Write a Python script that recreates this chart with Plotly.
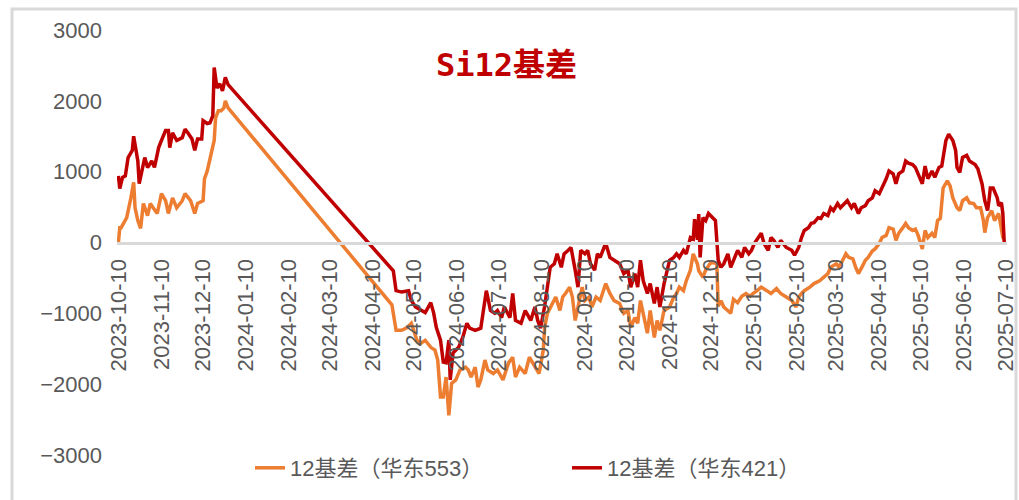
import plotly.graph_objects as go

# ---------------- data ----------------
series_names = ["12基差（华东553）", "12基差（华东421）"]

dates_553 = [
    "2023-10-10", "2023-10-11", "2023-10-12", "2023-10-14", "2023-10-16", "2023-10-19", "2023-10-21", "2023-10-22", "2023-10-24", "2023-10-26", "2023-10-28", "2023-10-31",
    "2023-11-02", "2023-11-04", "2023-11-07", "2023-11-10", "2023-11-13", "2023-11-15", "2023-11-18", "2023-11-21", "2023-11-25", "2023-11-27",
    "2023-12-01", "2023-12-04", "2023-12-06", "2023-12-10", "2023-12-11", "2023-12-13", "2023-12-16", "2023-12-18", "2023-12-19", "2023-12-21", "2023-12-23", "2023-12-25", "2023-12-26", "2023-12-28",
    "2024-04-24", "2024-04-27", "2024-05-01", "2024-05-05", "2024-05-08", "2024-05-12", "2024-05-15", "2024-05-18", "2024-05-22", "2024-05-25", "2024-05-27", "2024-05-29", "2024-05-31",
    "2024-06-02", "2024-06-04", "2024-06-06", "2024-06-09", "2024-06-12", "2024-06-16", "2024-06-18", "2024-06-20", "2024-06-23", "2024-06-25", "2024-06-27", "2024-06-30",
    "2024-07-02", "2024-07-06", "2024-07-09", "2024-07-13", "2024-07-17", "2024-07-20", "2024-07-22", "2024-07-25", "2024-07-29",
    "2024-08-01", "2024-08-05", "2024-08-08", "2024-08-11", "2024-08-12", "2024-08-14", "2024-08-18", "2024-08-20", "2024-08-23", "2024-08-25", "2024-08-27", "2024-08-30",
    "2024-09-01", "2024-09-03", "2024-09-06", "2024-09-08", "2024-09-10", "2024-09-13", "2024-09-15", "2024-09-18", "2024-09-21", "2024-09-25", "2024-09-28",
    "2024-10-01", "2024-10-05", "2024-10-08", "2024-10-11", "2024-10-13", "2024-10-16", "2024-10-18", "2024-10-20", "2024-10-23", "2024-10-25", "2024-10-27", "2024-10-30",
    "2024-11-01", "2024-11-03", "2024-11-06", "2024-11-10", "2024-11-13", "2024-11-15", "2024-11-17", "2024-11-20", "2024-11-22", "2024-11-25", "2024-11-27", "2024-11-30",
    "2024-12-01", "2024-12-04", "2024-12-06", "2024-12-09", "2024-12-11", "2024-12-14", "2024-12-15", "2024-12-17", "2024-12-19", "2024-12-22", "2024-12-24", "2024-12-26", "2024-12-29",
    "2025-01-01", "2025-01-04", "2025-01-07", "2025-01-09", "2025-01-12", "2025-01-15", "2025-01-19", "2025-01-22", "2025-01-26", "2025-01-29",
    "2025-02-02", "2025-02-06", "2025-02-09", "2025-02-11", "2025-02-13", "2025-02-15", "2025-02-19", "2025-02-22", "2025-02-26",
    "2025-03-01", "2025-03-04", "2025-03-06", "2025-03-10", "2025-03-12", "2025-03-15", "2025-03-17", "2025-03-19", "2025-03-22", "2025-03-24", "2025-03-26", "2025-03-29", "2025-03-31",
    "2025-04-02", "2025-04-05", "2025-04-07", "2025-04-10", "2025-04-12", "2025-04-15", "2025-04-17", "2025-04-20", "2025-04-22", "2025-04-24", "2025-04-27", "2025-04-29",
    "2025-05-01", "2025-05-04", "2025-05-06", "2025-05-08", "2025-05-11", "2025-05-13", "2025-05-15", "2025-05-18", "2025-05-20", "2025-05-22", "2025-05-24", "2025-05-26", "2025-05-29", "2025-05-31",
    "2025-06-02", "2025-06-05", "2025-06-07", "2025-06-09", "2025-06-12", "2025-06-14", "2025-06-17", "2025-06-19", "2025-06-22", "2025-06-24", "2025-06-25", "2025-06-27", "2025-06-30",
    "2025-07-02", "2025-07-05", "2025-07-07", "2025-07-08", "2025-07-09",
]
basis_553 = [
    0, 210, 210, 270, 350, 630, 850, 490, 310, 200, 550, 380,
    550, 490, 410, 690, 590, 410, 630, 490, 590, 690,
    590, 410, 550, 590, 900, 1010, 1300, 1440, 1760, 1860, 1860, 1900, 2000, 1900,
    -880, -1240, -1240, -1200, -1140, -1380, -1420, -1380, -1480, -1520, -1660, -2180, -2180,
    -1900, -2440, -1990, -1940, -1800, -1760, -1800, -1900, -1760, -2040, -1940, -1660,
    -1800, -1850, -1800, -1940, -1700, -1620, -1900, -1760, -1850,
    -1620, -1760, -1850, -1520, -1200, -1000, -860, -770, -960, -770, -720, -630,
    -770, -1100, -820, -630, -820, -770, -910, -770, -820, -580, -720,
    -820, -860, -1000, -960, -1200, -1060, -1140, -820, -1100, -1280, -960, -1340,
    -1100, -1240, -960, -910, -770, -720, -630, -680, -540, -390, -160, -300,
    -400, -490, -390, -300, -280, -300, -900, -820, -910, -960, -1000, -800, -850,
    -760, -720, -760, -720, -680, -630, -680, -720, -650, -720,
    -770, -820, -910, -770, -720, -680, -630, -580, -540,
    -490, -440, -350, -300, -350, -250, -160, -210, -230, -350, -440, -330, -250,
    -210, -120, -90, -15, 70, 100, 210, 190, 30, 130, 210, 270,
    210, 170, 190, 100, -90, 170, 70, 130, 70, 310, 340, 770, 870, 800,
    630, 490, 450, 590, 630, 560, 550, 490, 490, 310, 140, 350, 450,
    310, 410, 170, 70, 50,
]

dates_421 = [
    "2023-10-10", "2023-10-11", "2023-10-13", "2023-10-15", "2023-10-17", "2023-10-20", "2023-10-21", "2023-10-24", "2023-10-25", "2023-10-27", "2023-10-29", "2023-10-31",
    "2023-11-03", "2023-11-05", "2023-11-08", "2023-11-10", "2023-11-13", "2023-11-15", "2023-11-16", "2023-11-18", "2023-11-21", "2023-11-25", "2023-11-27", "2023-11-29",
    "2023-12-02", "2023-12-04", "2023-12-06", "2023-12-09", "2023-12-10", "2023-12-13", "2023-12-15", "2023-12-17", "2023-12-18", "2023-12-20", "2023-12-22", "2023-12-24", "2023-12-26", "2023-12-28",
    "2024-04-25", "2024-04-27", "2024-05-01", "2024-05-06", "2024-05-08", "2024-05-11", "2024-05-15", "2024-05-18", "2024-05-22", "2024-05-24", "2024-05-26", "2024-05-29", "2024-05-31",
    "2024-06-02", "2024-06-04", "2024-06-05", "2024-06-07", "2024-06-11", "2024-06-14", "2024-06-17", "2024-06-19", "2024-06-23", "2024-06-27", "2024-06-29",
    "2024-07-01", "2024-07-04", "2024-07-07", "2024-07-09", "2024-07-12", "2024-07-14", "2024-07-18", "2024-07-20", "2024-07-22", "2024-07-26", "2024-07-29",
    "2024-08-02", "2024-08-05", "2024-08-07", "2024-08-09", "2024-08-12", "2024-08-14", "2024-08-16", "2024-08-19", "2024-08-21", "2024-08-24", "2024-08-26", "2024-08-29", "2024-08-31",
    "2024-09-03", "2024-09-05", "2024-09-07", "2024-09-10", "2024-09-12", "2024-09-14", "2024-09-17", "2024-09-19", "2024-09-21", "2024-09-25", "2024-09-28",
    "2024-10-01", "2024-10-05", "2024-10-08", "2024-10-11", "2024-10-13", "2024-10-16", "2024-10-18", "2024-10-20", "2024-10-22", "2024-10-25", "2024-10-27", "2024-10-30",
    "2024-11-01", "2024-11-03", "2024-11-06", "2024-11-10", "2024-11-13", "2024-11-15", "2024-11-17", "2024-11-20", "2024-11-22", "2024-11-25", "2024-11-27", "2024-11-28", "2024-11-30",
    "2024-12-01", "2024-12-02", "2024-12-04", "2024-12-06", "2024-12-08", "2024-12-11", "2024-12-13", "2024-12-15", "2024-12-17", "2024-12-19", "2024-12-22", "2024-12-24", "2024-12-26", "2024-12-29",
    "2025-01-01", "2025-01-03", "2025-01-06", "2025-01-08", "2025-01-10", "2025-01-13", "2025-01-15", "2025-01-17", "2025-01-20", "2025-01-22", "2025-01-24", "2025-01-27", "2025-01-29",
    "2025-02-02", "2025-02-06", "2025-02-08", "2025-02-11", "2025-02-13", "2025-02-15", "2025-02-18", "2025-02-20", "2025-02-22", "2025-02-25", "2025-02-27",
    "2025-03-01", "2025-03-04", "2025-03-06", "2025-03-08", "2025-03-11", "2025-03-13", "2025-03-16", "2025-03-18", "2025-03-21", "2025-03-23", "2025-03-26", "2025-03-28", "2025-03-31",
    "2025-04-02", "2025-04-05", "2025-04-07", "2025-04-10", "2025-04-12", "2025-04-15", "2025-04-17", "2025-04-20", "2025-04-22", "2025-04-24", "2025-04-27", "2025-04-29",
    "2025-05-01", "2025-05-04", "2025-05-06", "2025-05-08", "2025-05-11", "2025-05-13", "2025-05-15", "2025-05-18", "2025-05-20", "2025-05-23", "2025-05-25", "2025-05-28", "2025-05-30",
    "2025-06-02", "2025-06-04", "2025-06-05", "2025-06-07", "2025-06-09", "2025-06-12", "2025-06-14", "2025-06-18", "2025-06-20", "2025-06-23", "2025-06-25", "2025-06-27", "2025-06-28", "2025-06-29",
    "2025-07-01", "2025-07-04", "2025-07-05", "2025-07-07", "2025-07-08", "2025-07-09",
]
basis_421 = [
    940, 760, 920, 940, 1200, 1300, 1500, 1150, 830, 1010, 1200, 1060,
    1150, 1060, 1340, 1440, 1580, 1580, 1340, 1550, 1440, 1480, 1600, 1550,
    1460, 1300, 1460, 1460, 1720, 1680, 1690, 1790, 2470, 2180, 2240, 2140, 2330, 2230,
    -400, -680, -700, -680, -820, -910, -960, -990, -850, -990, -1200, -1380, -1690,
    -1700, -1380, -1940, -1560, -1480, -1340, -1140, -1210, -1240, -1210, -960,
    -680, -960, -1000, -960, -1060, -910, -1060, -720, -1100, -1140, -960,
    -1100, -910, -1100, -1210, -900, -630, -350, -300, -160, -350, -160, -110, -70,
    -390, -630, -110, -160, -110, -300, -390, -160, -210, -10, -210,
    -250, -300, -440, -390, -630, -440, -630, -250, -540, -720, -580, -860,
    -630, -910, -580, -250, -210, -160, -210, -110, -160, 70, 50, 330, 40,
    400, -210, 350, 310, 410, 350, 310, -250, -350, -300, -160, -350, -250, -110,
    -210, -70, -160, -110, -15, 70, 130, -15, -110, 70, 30, -70, 30,
    -70, -110, -180, -70, 70, 170, 210, 270, 280, 350, 340,
    410, 380, 490, 450, 550, 490, 550, 590, 490, 550, 410, 490, 520,
    590, 630, 730, 690, 770, 900, 1010, 970, 830, 970, 1010, 1150,
    1120, 1100, 1060, 970, 830, 1080, 900, 1010, 920, 1060, 1080, 1440, 1530,
    1440, 1300, 1060, 990, 1200, 1230, 1150, 1100, 1040, 830, 590, 450, 590, 770,
    770, 630, 520, 560, 410, 0,
]

tick_labels = [
    "2023-10-10", "2023-11-10", "2023-12-10", "2024-01-10", "2024-02-10", "2024-03-10",
    "2024-04-10", "2024-05-10", "2024-06-10", "2024-07-10", "2024-08-10", "2024-09-10",
    "2024-10-10", "2024-11-10", "2024-12-10", "2025-01-10", "2025-02-10", "2025-03-10",
    "2025-04-10", "2025-05-10", "2025-06-10", "2025-07-10",
]
y_ticks = [3000, 2000, 1000, 0, -1000, -2000, -3000]
chart_title = "Si12基差"

# ---------------- figure ----------------
ORANGE = "#ED7D31"
DARKRED = "#C00000"
GREY_TXT = "#595959"
GREY_LINE = "#D9D9D9"
SANS = "Liberation Sans, Arial, Noto Sans CJK SC, sans-serif"

fig = go.Figure()
fig.add_trace(go.Scatter(x=dates_553, y=basis_553, mode="lines", name=series_names[0],
                         line=dict(color=ORANGE, width=3.5)))
fig.add_trace(go.Scatter(x=dates_421, y=basis_421, mode="lines", name=series_names[1],
                         line=dict(color=DARKRED, width=3.5)))

L, R, T, B = 117, 12, 30, 45
W, H = 1019, 500
pw, ph = W - L - R, H - T - B


def px_x(p):
    return (p - L) / pw


def px_y(p):
    return (H - B - p) / ph


fig.update_layout(
    width=W, height=H,
    margin=dict(l=L, r=R, t=T, b=B, autoexpand=False),
    paper_bgcolor="white", plot_bgcolor="white",
    font=dict(family=SANS, color=GREY_TXT),
    title=dict(text="<b>" + chart_title + "</b>", x=0.497, xanchor="center",
               xref="container", yref="container", y=1 - 65 / H, yanchor="middle",
               font=dict(family="DejaVu Sans Mono, Noto Sans CJK SC", size=32, color=DARKRED)),
    showlegend=True,
    legend=dict(orientation="h", x=px_x(250), xanchor="left", y=px_y(468), yanchor="middle",
                font=dict(size=22, color=GREY_TXT, family=SANS),
                entrywidth=272, entrywidthmode="pixels", bgcolor="rgba(0,0,0,0)",
                itemclick=False),
    xaxis=dict(type="date", range=["2023-10-09", "2025-07-11"],
               anchor="free", position=0.5,
               showline=True, linecolor=GREY_LINE, linewidth=2.5,
               showgrid=False, zeroline=False, ticks="",
               tickmode="array", tickvals=tick_labels, ticktext=tick_labels,
               tickangle=-90, tickfont=dict(size=22, color=GREY_TXT, family=SANS),
               ticklabelstandoff=6, ticklabeloverflow="allow", automargin=False),
    yaxis=dict(range=[-3000, 3000], tickmode="array", tickvals=y_ticks,
               showgrid=False, zeroline=False, showline=False, ticks="",
               tickfont=dict(size=22, color=GREY_TXT, family=SANS),
               ticklabelstandoff=14, automargin=False),
    shapes=[dict(type="rect", xref="paper", yref="paper",
                 x0=px_x(12), x1=px_x(1016), y0=px_y(515), y1=px_y(9),
                 line=dict(color=GREY_LINE, width=3), fillcolor="rgba(0,0,0,0)", layer="below")],
)

fig.write_html("out.html", config={"displayModeBar": False},
               post_script="document.body.style.margin='0';document.body.style.overflow='hidden';")
